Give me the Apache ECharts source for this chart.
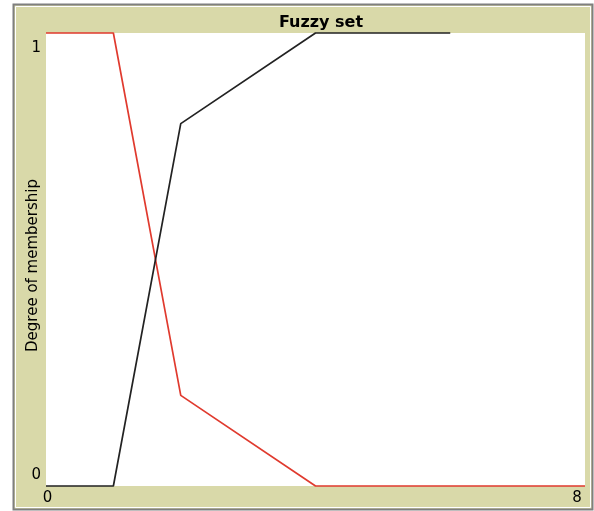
<!DOCTYPE html>
<html>
<head>
<meta charset="utf-8">
<script src="https://cdn.jsdelivr.net/npm/echarts@6/dist/echarts.min.js"></script>
<style>
html,body{margin:0;padding:0;background:#fff;}
#c{width:594px;height:511px;}
</style>
</head>
<body>
<div id="c"></div>
<script>
var titleText = "Fuzzy set";
var yAxisName = "Degree of membership";
var xMin = 0, xMax = 8;
var yMin = 0, yMax = 1;
var redSeries = [[0,1],[1,1],[2,0.2],[4,0],[8,0]];
var blackSeries = [[0,0],[1,0],[2,0.8],[4,1],[6,1]];

var chart = echarts.init(document.getElementById('c'), null, {renderer:'canvas'});
var font = "DejaVu Sans";
var fs = 15;
chart.setOption({
  animation:false,
  backgroundColor:'#ffffff',
  graphic:[
    {type:'rect', z:-10, shape:{x:13.5,y:4.5,width:579,height:505}, style:{fill:'#d9d9a9', stroke:'#7f7f7f', lineWidth:2}},
    {type:'rect', z:-9, shape:{x:15.5,y:6.5,width:575,height:501}, style:{fill:null, stroke:'#ffffff', lineWidth:1}}
  ],
  title:{text:titleText, left:316, top:10, textAlign:'center',
    textStyle:{fontFamily:font, fontSize:16, fontWeight:'bold', color:'#000'}},
  grid:{left:46, right:9, top:33, bottom:25, show:true, backgroundColor:'#ffffff', borderWidth:0},
  xAxis:{type:'value', min:xMin, max:xMax, interval:8,
    axisLine:{show:false}, axisTick:{show:false}, splitLine:{show:false},
    axisLabel:{margin:5, color:'#000', fontFamily:font, fontSize:fs,
      formatter:function(v){return v===xMin?'{l|'+v+'}':'{r|'+v+'}';},
      rich:{l:{padding:[0,0,0,3],fontFamily:font,fontSize:fs,color:'#000'}, r:{padding:[0,16,0,0],fontFamily:font,fontSize:fs,color:'#000'}}}
  },
  yAxis:{type:'value', min:yMin, max:yMax, interval:1,
    name:yAxisName, nameLocation:'middle', nameGap:5, nameRotate:90, nameMoveOverlap:false,
    nameTextStyle:{fontFamily:font, fontSize:fs, color:'#000', padding:[0,12,0,0]},
    axisLine:{show:false}, axisTick:{show:false}, splitLine:{show:false},
    axisLabel:{margin:5, color:'#000', fontFamily:font, fontSize:fs,
      formatter:function(v){return v===yMax?'{t|'+v+'}':'{b|'+v+'}';},
      rich:{t:{padding:[30,0,0,0],fontFamily:font,fontSize:fs,color:'#000'}, b:{padding:[0,0,22,0],fontFamily:font,fontSize:fs,color:'#000'}}}
  },
  series:[
    {type:'line', data:redSeries, symbol:'none', lineStyle:{color:'#e03a2e', width:1.7}, clip:false},
    {type:'line', data:blackSeries, symbol:'none', lineStyle:{color:'#222222', width:1.7}, clip:false}
  ]
});
</script>
</body>
</html>
